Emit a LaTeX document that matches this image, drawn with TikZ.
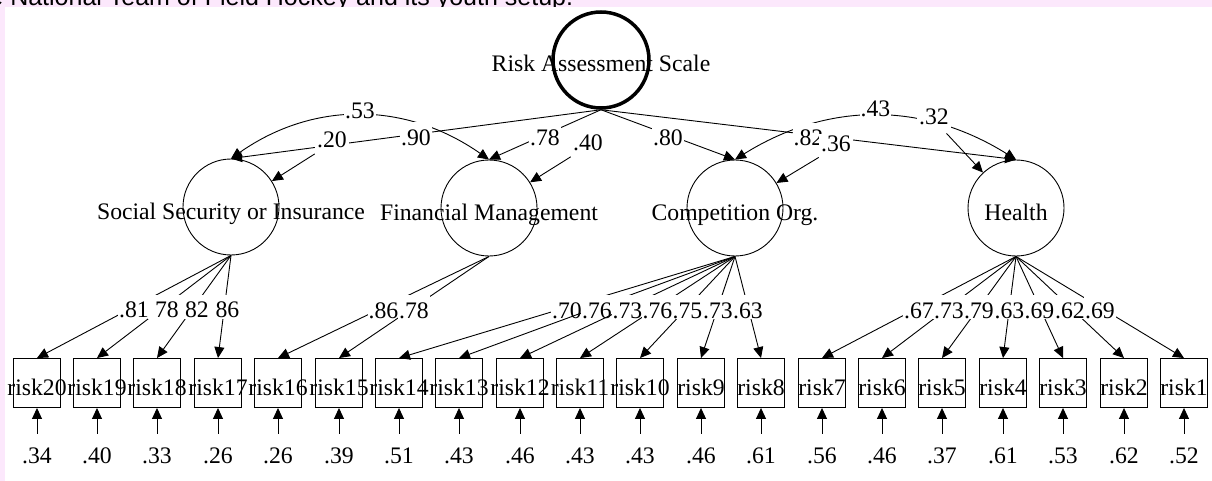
\documentclass[tikz,border=0pt]{standalone}
\usepackage{fontspec}
\setmainfont{Liberation Serif}
\newfontfamily\capfont{Liberation Sans}
\usetikzlibrary{arrows.meta}
\definecolor{capbg}{RGB}{252,232,252}
\newcommand{\ovr}[1]{\makebox[0pt]{#1}}

\begin{document}
\begin{tikzpicture}[x=1pt,y=1pt,line width=0.9pt,
  font=\fontsize{23.7pt}{28pt}\selectfont,
  >={Triangle[length=11pt,width=10pt]},
  latent/.style={circle,draw,minimum size=96pt,inner sep=0pt,text height=24pt,text depth=0pt},
  general/.style={latent,line width=3.5pt},
  item/.style={rectangle,draw,minimum width=47pt,minimum height=49pt,inner sep=0pt,text height=24pt,text depth=0pt},
  err/.style={inner sep=0pt,minimum height=36pt,text height=22pt,text depth=0pt},
  lbl/.style={fill=white,inner sep=1pt,text height=22pt,text depth=0pt},
  resid/.style={fill=white,inner sep=2pt,text height=16pt,text depth=6pt}]
\useasboundingbox (0,0) rectangle (1212,-481);
% caption strip
\fill[capbg] (0,0) rectangle (1212,-7);
\fill[capbg] (0,0) rectangle (5,-481);
\begin{scope}
\clip (0,0) rectangle (1212,-7);
\node[anchor=base west,inner sep=0pt,font=\capfont\fontsize{25pt}{30pt}\selectfont] (cap) at (-11,-5.5) {e National Team of Field Hockey and its youth setup.};
\end{scope}

% factors
\node[general] (ras) at (601,-60) {\ovr{Risk Assessment Scale}};
\node[latent] (ss) at (231,-207) {\ovr{Social Security or Insurance}};
\node[latent] (fm) at (489,-208) {\ovr{Financial Management}};
\node[latent] (co) at (735,-208) {\ovr{Competition Org.}};
\node[latent] (he) at (1016,-208) {\ovr{Health}};

% items
\node[item] (r20) at (37,-383) {\ovr{risk20}};
\node[item] (r19) at (97,-383) {\ovr{risk19}};
\node[item] (r18) at (157,-383) {\ovr{risk18}};
\node[item] (r17) at (218,-383) {\ovr{risk17}};
\node[item] (r16) at (278,-383) {\ovr{risk16}};
\node[item] (r15) at (339,-383) {\ovr{risk15}};
\node[item] (r14) at (399,-383) {\ovr{risk14}};
\node[item] (r13) at (459,-383) {\ovr{risk13}};
\node[item] (r12) at (520,-383) {\ovr{risk12}};
\node[item] (r11) at (580,-383) {\ovr{risk11}};
\node[item] (r10) at (640,-383) {\ovr{risk10}};
\node[item] (r9) at (701,-383) {\ovr{risk9}};
\node[item] (r8) at (761,-383) {\ovr{risk8}};
\node[item] (r7) at (822,-383) {\ovr{risk7}};
\node[item] (r6) at (882,-383) {\ovr{risk6}};
\node[item] (r5) at (942,-383) {\ovr{risk5}};
\node[item] (r4) at (1003,-383) {\ovr{risk4}};
\node[item] (r3) at (1063,-383) {\ovr{risk3}};
\node[item] (r2) at (1124,-383) {\ovr{risk2}};
\node[item] (r1) at (1184,-383) {\ovr{risk1}};

% error terms
\node[err] (e20) at (37,-452) {.34};
\node[err] (e19) at (97,-452) {.40};
\node[err] (e18) at (157,-452) {.33};
\node[err] (e17) at (218,-452) {.26};
\node[err] (e16) at (278,-452) {.26};
\node[err] (e15) at (339,-452) {.39};
\node[err] (e14) at (399,-452) {.51};
\node[err] (e13) at (459,-452) {.43};
\node[err] (e12) at (520,-452) {.46};
\node[err] (e11) at (580,-452) {.43};
\node[err] (e10) at (640,-452) {.43};
\node[err] (e9) at (701,-452) {.46};
\node[err] (e8) at (761,-452) {.61};
\node[err] (e7) at (822,-452) {.56};
\node[err] (e6) at (882,-452) {.46};
\node[err] (e5) at (942,-452) {.37};
\node[err] (e4) at (1003,-452) {.61};
\node[err] (e3) at (1063,-452) {.53};
\node[err] (e2) at (1124,-452) {.62};
\node[err] (e1) at (1184,-452) {.52};

% covariances
\draw[<->] (ss.north) to[out=35,in=145] node[lbl,yshift=8pt]{.53} (fm.north);
\draw[<->] (co.north) to[out=32,in=148] node[lbl,yshift=10pt]{.43} (he.north);

% second order loadings
\draw[->] (ras.south) -- node[lbl]{.90} (ss.north);
\draw[->] (ras.south) -- node[lbl]{.78} (fm.north);
\draw[->] (ras.south) -- node[lbl]{.80} (co.north);
\draw[->] (ras.south) -- node[lbl]{.82} (he.north);

% disturbances
\node[resid] (d1) at (332,-143) {.20};
\node[resid] (d2) at (588,-146) {.40};
\node[resid] (d3) at (836,-147) {.36};
\node[resid] (d4) at (934,-120) {.32};
\draw[->] (d1) -- (ss);
\draw[->] (d2) -- (fm);
\draw[->] (d3) -- (co);
\draw[->] (d4) -- (he);

% item loadings
\draw[->] (ss.south) -- node[lbl]{.81} (r20.north);
\draw[->] (ss.south) -- node[lbl]{\phantom{.}78} (r19.north);
\draw[->] (ss.south) -- node[lbl]{\phantom{.}82} (r18.north);
\draw[->] (ss.south) -- node[lbl]{\phantom{.}86} (r17.north);
\draw[->] (fm.south) -- node[lbl]{.86} (r16.north);
\draw[->] (fm.south) -- node[lbl]{.78} (r15.north);
\draw[->] (co.south) -- node[lbl]{.70} (r14.north);
\draw[->] (co.south) -- node[lbl]{.76} (r13.north);
\draw[->] (co.south) -- node[lbl]{.73} (r12.north);
\draw[->] (co.south) -- node[lbl]{.76} (r11.north);
\draw[->] (co.south) -- node[lbl]{.75} (r10.north);
\draw[->] (co.south) -- node[lbl]{.73} (r9.north);
\draw[->] (co.south) -- node[lbl]{.63} (r8.north);
\draw[->] (he.south) -- node[lbl]{.67} (r7.north);
\draw[->] (he.south) -- node[lbl]{.73} (r6.north);
\draw[->] (he.south) -- node[lbl]{.79} (r5.north);
\draw[->] (he.south) -- node[lbl]{.63} (r4.north);
\draw[->] (he.south) -- node[lbl]{.69} (r3.north);
\draw[->] (he.south) -- node[lbl]{.62} (r2.north);
\draw[->] (he.south) -- node[lbl]{.69} (r1.north);

% error arrows
\draw[->] (e20) -- (r20);
\draw[->] (e19) -- (r19);
\draw[->] (e18) -- (r18);
\draw[->] (e17) -- (r17);
\draw[->] (e16) -- (r16);
\draw[->] (e15) -- (r15);
\draw[->] (e14) -- (r14);
\draw[->] (e13) -- (r13);
\draw[->] (e12) -- (r12);
\draw[->] (e11) -- (r11);
\draw[->] (e10) -- (r10);
\draw[->] (e9) -- (r9);
\draw[->] (e8) -- (r8);
\draw[->] (e7) -- (r7);
\draw[->] (e6) -- (r6);
\draw[->] (e5) -- (r5);
\draw[->] (e4) -- (r4);
\draw[->] (e3) -- (r3);
\draw[->] (e2) -- (r2);
\draw[->] (e1) -- (r1);
\end{tikzpicture}
\end{document}
